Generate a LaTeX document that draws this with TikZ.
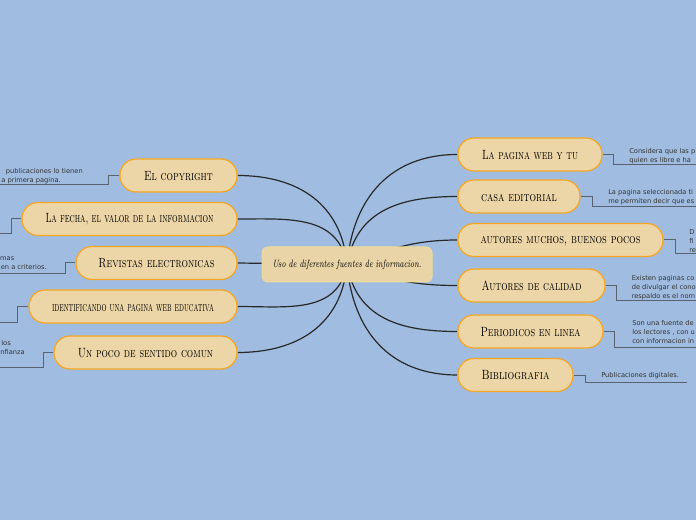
\documentclass[tikz,border=0pt]{standalone}
\usepackage{fontspec}
\newfontfamily\notefont{DejaVu Sans}
\usetikzlibrary{calc}
\pgfdeclarelayer{background}
\pgfsetlayers{background,main}
\definecolor{bgblue}{RGB}{160,189,225}
\definecolor{nodefill}{RGB}{236,213,166}
\definecolor{borange}{RGB}{245,166,35}
\definecolor{cfill}{RGB}{232,212,166}
\definecolor{cborder}{RGB}{236,220,150}
\definecolor{curvecol}{RGB}{40,40,42}
\definecolor{notecol}{RGB}{51,51,51}
\definecolor{linkcol}{RGB}{88,98,112}
\newcommand\lbl[2]{\resizebox{#1}{7.2pt}{\rule{0pt}{7.2pt}\fontsize{10}{10}\selectfont\scshape #2}}
\tikzset{
  child/.style={draw=borange, line width=0.9pt, fill=nodefill, rounded corners=12pt,
    minimum height=24.75pt, inner sep=0pt, text=black},
  centre/.style={draw=cborder, line width=0.75pt, fill=cfill, rounded corners=4.5pt,
    minimum width=127.5pt, minimum height=26.25pt, inner sep=0pt},
  branch/.style={draw=curvecol, line width=0.9pt},
  link/.style={draw=linkcol, line width=0.75pt},
  note/.style={text=notecol, inner sep=0pt, font=\notefont\fontsize{5}{6.75}\selectfont},
}
\begin{document}
\begin{tikzpicture}[x=0.75pt,y=-0.75pt]
\useasboundingbox (0,0) rectangle (696,520);
\begin{pgfonlayer}{background}
\fill[bgblue] (0,0) rectangle (696,520);
\end{pgfonlayer}
\clip (0,0) rectangle (696,520);

% centre
\node[centre] (c) at (347,264.5) {\resizebox{111.75pt}{5.6pt}{\rule{0pt}{5.6pt}\fontsize{8}{8}\selectfont\itshape Uso de diferentes fuentes de informacion.}};

% left children
\node[child, minimum width=87.75pt]  (L1) at (178.5,175.5) {\lbl{51.75pt}{El copyright}};
\node[child, minimum width=161.25pt] (L2) at (129.5,219)   {\lbl{126pt}{La fecha, el valor de la informacion}};
\node[child, minimum width=120.75pt] (L3) at (156.5,263)   {\lbl{87pt}{Revistas electronicas}};
\node[child, minimum width=156pt]    (L4) at (133,306.5)   {\lbl{121.5pt}{identificando una pagina web educativa}};
\node[child, minimum width=137.25pt] (L5) at (145.5,352.5) {\lbl{101.25pt}{Un poco de sentido comun}};

% right children
\node[child, minimum width=108pt]    (R1) at (530,154.5)   {\lbl{72pt}{La pagina web y tu}};
\node[child, minimum width=91.5pt]   (R2) at (519,196.5)   {\lbl{57pt}{casa editorial}};
\node[child, minimum width=153.75pt] (R3) at (560.5,240)   {\lbl{120pt}{autores muchos, buenos pocos}};
\node[child, minimum width=110.25pt] (R4) at (531.5,285.5) {\lbl{75pt}{Autores de calidad}};
\node[child, minimum width=108.75pt] (R5) at (530.5,331.5) {\lbl{75pt}{Periodicos en linea}};
\node[child, minimum width=86.25pt]  (R6) at (515.5,375)   {\lbl{51pt}{Bibliografia}};

% branches
\begin{pgfonlayer}{background}
\draw[branch] (L1.east) to[out=0,in=95,looseness=1.1] (c.center);
\draw[branch] (L2.east) to[out=0,in=100,looseness=1.1] (c.center);
\draw[branch] (L3.east) -- (c.center);
\draw[branch] (L4.east) to[out=0,in=-100,looseness=1.1] (c.center);
\draw[branch] (L5.east) to[out=0,in=-95,looseness=1.1] (c.center);
\draw[branch] (R1.west) to[out=180,in=85,looseness=1.1] (c.center);
\draw[branch] (R2.west) to[out=180,in=80,looseness=1.1] (c.center);
\draw[branch] (R3.west) to[out=180,in=20] (c.center);
\draw[branch] (R4.west) to[out=180,in=-20] (c.center);
\draw[branch] (R5.west) to[out=180,in=-80,looseness=1.1] (c.center);
\draw[branch] (R6.west) to[out=180,in=-85,looseness=1.1] (c.center);
\end{pgfonlayer}

% note connectors: right
\coordinate (e1) at (696,165);
\draw[link] (R1.east) -- (613,154.5) -- (613,165) -- (e1);
\coordinate (e2) at (696,207);
\draw[link] (R2.east) -- (592,196.5) -- (592,207) -- (e2);
\coordinate (e3) at (696,254);
\draw[link] (R3.east) -- (675,240) -- (675,254) -- (e3);
\coordinate (e4) at (696,301);
\draw[link] (R4.east) -- (616,285.5) -- (616,301) -- (e4);
\coordinate (e5) at (696,347);
\draw[link] (R5.east) -- (614,331.5) -- (614,347) -- (e5);
\coordinate (e6) at (687,382);
\draw[link] (R6.east) -- (585,375) -- (585,382) -- (e6);

% note connectors: left
\coordinate (f1) at (0,185);
\draw[link] (L1.west) -- (108,175.5) -- (108,185) -- (f1);
\coordinate (f2) at (0,234);
\draw[link] (L2.west) -- (11,219) -- (11,234) -- (f2);
\coordinate (f3) at (0,273.5);
\draw[link] (L3.west) -- (65,263) -- (65,273.5) -- (f3);
\coordinate (f4) at (0,322);
\draw[link] (L4.west) -- (17,306.5) -- (17,322) -- (f4);
\coordinate (f5) at (0,367);
\draw[link] (L5.west) -- (43,352.5) -- (43,367) -- (f5);

% notes right
\node[note, anchor=base west] (t1a) at (629,153.5) {Considera que las p};
\node[note, anchor=base west] (t1b) at (629,162.5) {quien es libre e ha};
\node[note, anchor=base west] (t2a) at (608,194.5) {La pagina seleccionada ti};
\node[note, anchor=base west] (t2b) at (608,203.5) {me permiten decir que es};
\node[note, anchor=base west] (t3a) at (689,234.5) {D};
\node[note, anchor=base west] (t3b) at (689,243.5) {fi};
\node[note, anchor=base west] (t3c) at (689,252.5) {re};
\node[note, anchor=base west] (t4a) at (631.5,280.5) {Existen paginas co};
\node[note, anchor=base west] (t4b) at (631.5,289.5) {de divulgar el cono};
\node[note, anchor=base west] (t4c) at (631.5,298.5) {respaldo es el nom};
\node[note, anchor=base west] (t5a) at (632,325.5) {Son una fuente de};
\node[note, anchor=base west] (t5b) at (632,334.5) {los lectores , con u};
\node[note, anchor=base west] (t5c) at (632,343.5) {con informacion in};
\node[note, anchor=base west] (t6a) at (601,377.5) {Publicaciones digitales.};

% notes left
\node[note, anchor=base east] (s1a) at (83,173.5) {publicaciones lo tienen};
\node[note, anchor=base east] (s1b) at (61,182.5) {a primera pagina.};
\node[note, anchor=base east] (s3a) at (14.5,260.5) {mas};
\node[note, anchor=base east] (s3b) at (47,269.5) {en a criterios.};
\node[note, anchor=base east] (s5a) at (11,345.5) {los};
\node[note, anchor=base east] (s5b) at (25,354.5) {nfianza};
\end{tikzpicture}
\end{document}
